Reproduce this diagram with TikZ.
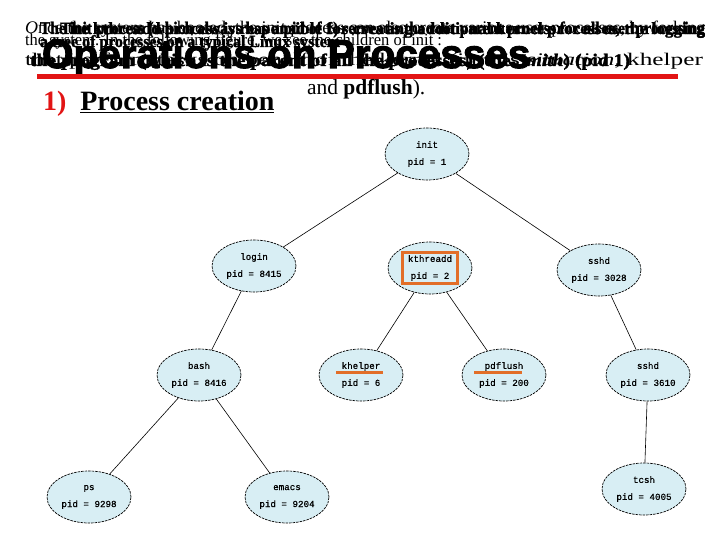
\documentclass[tikz,border=0pt]{standalone}
\usepackage{fontspec}
\usepackage{graphicx}
\setmainfont{Liberation Serif}
\setsansfont{Liberation Sans}
\setmonofont{Liberation Mono}
\newfontfamily\heavysans{Liberation Sans Bold}[FakeBold=2.5]
\newfontfamily\heavyserif{Liberation Serif Bold}[FakeBold=1.5]
\newfontfamily\procmono{Liberation Mono}[FakeBold=0.6]
\usetikzlibrary{shapes.geometric}
\definecolor{procfill}{RGB}{216,238,244}
\definecolor{slidered}{RGB}{226,20,20}
\definecolor{markorange}{RGB}{226,110,40}
\newcommand{\fitline}[3]{\resizebox{#1}{#2}{\fontsize{18}{20}\selectfont #3}}
\begin{document}
\begin{tikzpicture}[x=1pt,y=-1pt,
  proc/.style={ellipse, draw=black, line width=0.7pt, dash pattern=on 2.5pt off 1pt,
    fill=procfill, minimum width=84pt, minimum height=52pt, inner sep=0pt,
    align=center, font=\procmono\fontsize{9.2}{17}\selectfont},
  link/.style={draw=black, line width=0.6pt},
  txt/.style={anchor=base west, inner sep=0pt, outer sep=0pt},
  hilite/.style={draw=markorange, line width=3pt}
]
\useasboundingbox (0,0) rectangle (720,540);

% garbled overlapping text lines (slide build overlay)
\node[txt] (la1) at (25,34) {\fitline{680pt}{12.5pt}{\textit{O}nce the system has booted, the init process can also create various user processes, by forking}};
\node[txt] (la2) at (40,34) {\fitline{665pt}{12.5pt}{\heavyserif The init process (which always has a pid of 1) serves as the root parent process for all user processing}};
\node[txt] (la3) at (60,34) {\fitline{645pt}{12pt}{\heavyserif The kthreadd process is responsible for creating additional kernel processes, the logging}};
\node[txt] (lb1) at (25,46) {\fitline{417pt}{12pt}{the system. In the following figure, we see the children of init :}};
\node[txt] (lb2) at (40,47) {\fitline{300pt}{12pt}{\heavyserif a tree of processes on a typical Linux system}};
\node[txt] (lc1) at (25,66) {\fitline{678pt}{12.5pt}{that perform tasks on behalf of the kernel (in this \textit{situation}, khelper}};
\node[txt] (lc2) at (30,66) {\fitline{600pt}{12.5pt}{\heavyserif the program (which is the parent of all the processes) (the \textit{Smith}) (pid 1)}};

% title
\node[txt] (title) at (42,68) {\heavysans\fontsize{40.5}{44}\selectfont Operations on Processes};
\draw[slidered, line width=5pt] (37,77) -- (678,77);

\node[txt] (sub) at (43,111) {\fontsize{28}{30}\selectfont\bfseries \textcolor{slidered}{1)}\ \ \underline{Process creation}};
\node[txt] (tail) at (307,95) {\fontsize{21.5}{24}\selectfont and \textbf{pdflush}).};

% process tree
\node[proc] (init) at (427,154) {init\\pid = 1};
\node[proc] (login) at (254,266) {login\\pid = 8415};
\node[proc] (kthreadd) at (430,268) {kthreadd\\pid = 2};
\node[proc] (sshd) at (599,270) {sshd\\pid = 3028};
\node[proc] (bash) at (199,375) {bash\\pid = 8416};
\node[proc] (khelper) at (361,375) {khelper\\pid = 6};
\node[proc] (pdflush) at (504,375) {pdflush\\pid = 200};
\node[proc] (sshd2) at (648,375) {sshd\\pid = 3610};
\node[proc] (ps) at (89,497) {ps\\pid = 9298};
\node[proc] (emacs) at (287,497) {emacs\\pid = 9204};
\node[proc] (tcsh) at (644,489) {tcsh\\pid = 4005};

\draw[link] (init) -- (login);
\draw[link] (init) -- (sshd);
\draw[link] (login) -- (bash);
\draw[link] (kthreadd) -- (khelper);
\draw[link] (kthreadd) -- (pdflush);
\draw[link] (sshd) -- (sshd2);
\draw[link] (bash) -- (ps);
\draw[link] (bash) -- (emacs);
\draw[link] (sshd2) -- (tcsh);

% highlights
\draw[hilite] ([shift={(-28,-16)}]kthreadd.center) rectangle ([shift={(27,15)}]kthreadd.center);
\draw[hilite] ([shift={(-25,-3)}]khelper.center) -- ([shift={(22,-3)}]khelper.center);
\draw[hilite] ([shift={(-30,-3)}]pdflush.center) -- ([shift={(18,-3)}]pdflush.center);
\end{tikzpicture}
\end{document}
